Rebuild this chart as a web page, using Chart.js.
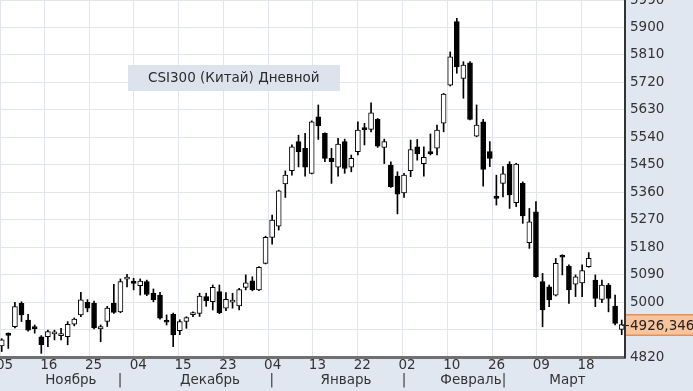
<!DOCTYPE html>
<html>
<head>
<meta charset="utf-8">
<title>CSI300 (Китай) Дневной</title>
<script src="https://cdn.jsdelivr.net/npm/chart.js"></script>
<style>
  html, body { margin: 0; padding: 0; background: #e1e7f0; }
  #wrap { width: 693px; height: 391px; }
</style>
</head>
<body>
<div id="wrap"><canvas id="chart" width="693" height="391"></canvas></div>
<script>
// CSI300 daily candles, 5 Nov 2020 .. 25 Mar 2021
const opens = [
  4856, 4898, 4919, 4996, 4941, 4920, 4886, 4887, 4896, 4890,
  4887, 4928, 4958, 4999, 4996, 4912, 4937, 4996, 4968, 5075,
  5069, 5054, 5067, 5029, 5023, 4937, 4960, 4906, 4937, 4959,
  4963, 5018, 5001, 5034, 4980, 5000, 4987, 5048, 5070, 5040,
  5127, 5212, 5249, 5387, 5431, 5526, 5504, 5422, 5607, 5553,
  5471, 5442, 5526, 5442, 5493, 5569, 5566, 5599, 5507, 5449,
  5413, 5358, 5431, 5509, 5454, 5493, 5504, 5586, 5711, 5919,
  5733, 5784, 5544, 5591, 5493, 5345, 5389, 5452, 5326, 5389,
  5195, 5296, 5067, 5050, 5023, 5154, 5118, 5059, 5063, 5116,
  5072, 5009, 5056, 4987, 4910
];
const highs = [
  4880, 4899, 4999, 5001, 4960, 4925, 4890, 4908, 4908, 4914,
  4936, 4948, 5032, 5008, 5003, 4925, 4986, 5058, 5076, 5091,
  5078, 5076, 5072, 5043, 5032, 4958, 4964, 4942, 4952, 4968,
  5029, 5029, 5056, 5056, 5031, 5029, 5045, 5089, 5083, 5116,
  5216, 5285, 5367, 5430, 5515, 5547, 5553, 5594, 5646, 5555,
  5504, 5537, 5534, 5482, 5591, 5586, 5653, 5602, 5534, 5460,
  5427, 5422, 5531, 5533, 5509, 5551, 5580, 5684, 5820, 5930,
  5788, 5788, 5646, 5599, 5526, 5416, 5444, 5460, 5455, 5394,
  5307, 5329, 5094, 5056, 5143, 5155, 5122, 5089, 5122, 5162,
  5089, 5072, 5061, 5023, 4941
];
const lows = [
  4838, 4848, 4915, 4936, 4905, 4898, 4832, 4854, 4876, 4876,
  4860, 4922, 4952, 4968, 4912, 4870, 4920, 4963, 4965, 5050,
  5040, 5023, 5021, 5001, 4944, 4925, 4854, 4893, 4914, 4952,
  4953, 4986, 4974, 4962, 4972, 4980, 4974, 5040, 5037, 5037,
  5125, 5190, 5236, 5343, 5416, 5443, 5413, 5420, 5533, 5460,
  5389, 5413, 5422, 5427, 5482, 5515, 5558, 5507, 5454, 5376,
  5289, 5343, 5411, 5465, 5413, 5482, 5482, 5558, 5708, 5750,
  5668, 5597, 5542, 5380, 5444, 5318, 5345, 5307, 5313, 5258,
  5176, 5081, 4919, 4985, 5020, 5089, 4996, 5018, 5018, 5114,
  4985, 4998, 4968, 4925, 4893
];
const closes = [
  4876, 4891, 4985, 4958, 4908, 4913, 4860, 4903, 4899, 4893,
  4927, 4944, 5007, 4980, 4915, 4920, 4980, 4966, 5067, 5078,
  5061, 5069, 5025, 5008, 4947, 4934, 4892, 4936, 4949, 4962,
  5020, 5005, 5048, 4965, 5009, 5003, 5041, 5063, 5041, 5114,
  5212, 5269, 5365, 5416, 5509, 5493, 5442, 5591, 5577, 5471,
  5460, 5518, 5438, 5471, 5564, 5565, 5620, 5511, 5526, 5378,
  5354, 5416, 5500, 5486, 5474, 5486, 5564, 5682, 5804, 5771,
  5777, 5599, 5580, 5435, 5471, 5340, 5420, 5351, 5452, 5282,
  5263, 5083, 4974, 5007, 5127, 5147, 5040, 5083, 5103, 5143,
  5012, 5056, 5012, 4930, 4926.346
];

// date ticks sit on evenly spaced grid lines (positions in candle-index units)
const dayTickPos = [-0.25, 6.46, 13.24, 20.03, 26.82, 33.61, 40.40, 47.19, 53.98, 60.77, 67.56, 74.35, 81.13, 87.92];
const dayTickLabels = ['05', '16', '25', '04', '15', '23', '04', '13', '22', '02', '10', '26', '09', '18'];
const monthTickPos = [10.48, 17.93, 31.58, 40.93, 52.2, 61.0, 71.15, 76.15, 85.78];
const monthTickLabels = ['Ноябрь', '|', 'Декабрь', '|', 'Январь', '|', 'Февраль', '|', 'Март'];
const priceTicks = [4820, 4910, 5000, 5090, 5180, 5270, 5360, 5450, 5540, 5630, 5720, 5810, 5900, 5990];

const title = 'CSI300 (Китай) Дневной';
const lastPrice = closes[closes.length - 1];

const idx = opens.map((_, i) => i);
const bodies = idx.map(i => ({ x: i, y: [Math.min(opens[i], closes[i]), Math.max(opens[i], closes[i])] }));
const wicks = idx.map(i => ({ x: i, y: [lows[i], highs[i]] }));
const bodyColors = idx.map(i => closes[i] >= opens[i] ? '#ffffff' : '#000000');

const FONT = { family: '"DejaVu Sans", Verdana, sans-serif', size: 13.5 };
const AXIS_BG = '#e1e7f0';

const decorations = {
  id: 'decorations',
  beforeDraw(chart) {
    const { ctx, chartArea: a } = chart;
    ctx.save();
    ctx.fillStyle = AXIS_BG;
    ctx.fillRect(0, 0, chart.width, chart.height);
    ctx.fillStyle = '#ffffff';
    ctx.fillRect(a.left, a.top, a.right - a.left, a.bottom - a.top);
    ctx.restore();
  },
  beforeDatasetsDraw(chart) {
    // caption box inside the plot
    const ctx = chart.ctx;
    ctx.save();
    ctx.fillStyle = '#dce3ed';
    ctx.fillRect(128, 65, 212, 26);
    ctx.fillStyle = '#2b2b2b';
    ctx.font = '13.5px ' + FONT.family;
    ctx.textBaseline = 'middle';
    ctx.fillText(title, 148, 78.5);
    ctx.restore();
  },
  afterDraw(chart) {
    // last price tag on the right axis
    const { ctx, chartArea: a } = chart;
    const y = Math.round(chart.scales.y.getPixelForValue(lastPrice));
    ctx.save();
    ctx.fillStyle = '#f8c49e';
    ctx.fillRect(a.right + 1, y - 11, chart.width - a.right, 22);
    ctx.fillStyle = '#e2905a';
    ctx.fillRect(a.right + 1, y - 11, chart.width - a.right, 1.5);
    ctx.fillRect(a.right + 1, y + 9.5, chart.width - a.right, 1.5);
    ctx.strokeStyle = '#222';
    ctx.lineWidth = 1;
    ctx.beginPath();
    ctx.moveTo(a.right - 3, y + 0.5);
    ctx.lineTo(a.right + 4, y + 0.5);
    ctx.stroke();
    ctx.fillStyle = '#222';
    ctx.font = '13.5px ' + FONT.family;
    ctx.textBaseline = 'middle';
    ctx.fillText(lastPrice.toFixed(3).replace('.', ','), a.right + 5, y + 1);
    ctx.restore();
  }
};

new Chart(document.getElementById('chart'), {
  type: 'bar',
  data: {
    datasets: [
      {
        label: 'body',
        data: bodies,
        xAxisID: 'x',
        yAxisID: 'y',
        order: 0,
        grouped: false,
        barThickness: 5,
        minBarLength: 2,
        backgroundColor: bodyColors,
        borderColor: '#000000',
        borderWidth: 1,
        borderSkipped: false
      },
      {
        label: 'wick',
        data: wicks,
        xAxisID: 'x',
        yAxisID: 'y',
        order: 1,
        grouped: false,
        barThickness: 1,
        backgroundColor: '#000000',
        borderWidth: 0
      }
    ]
  },
  options: {
    responsive: false,
    animation: false,
    layout: { padding: 0 },
    font: FONT,
    plugins: { legend: { display: false }, tooltip: { enabled: false } },
    scales: {
      x: {
        type: 'linear',
        position: 'bottom',
        weight: 0,
        min: -0.26,
        max: 94.5,
        offset: false,
        afterBuildTicks: axis => { axis.ticks = dayTickPos.map(v => ({ value: v })); },
        afterFit: axis => { axis.height = 15; axis.paddingLeft = 0; axis.paddingRight = 0; },
        grid: { color: '#e2e6ec', offset: false, drawTicks: false },
        border: { color: '#707070', width: 3 },
        ticks: {
          autoSkip: false, maxRotation: 0, padding: 0, labelOffset: 4.5,
          color: '#333', font: FONT,
          callback: (v, i) => dayTickLabels[i]
        }
      },
      months: {
        type: 'linear',
        axis: 'x',
        position: 'bottom',
        weight: 1,
        min: -0.26,
        max: 94.5,
        offset: false,
        afterBuildTicks: axis => { axis.ticks = monthTickPos.map(v => ({ value: v })); },
        afterFit: axis => { axis.height = 19; axis.paddingLeft = 0; axis.paddingRight = 0; },
        grid: { display: false, drawTicks: false },
        border: { display: false },
        ticks: {
          autoSkip: false, maxRotation: 0, padding: 0,
          color: '#333', font: FONT,
          callback: (v, i) => monthTickLabels[i]
        }
      },
      y: {
        position: 'right',
        min: 4820,
        max: 5990,
        afterBuildTicks: axis => { axis.ticks = priceTicks.map(v => ({ value: v })); },
        afterFit: axis => { axis.width = 68; axis.paddingTop = 0; axis.paddingBottom = 0; },
        grid: { color: '#e2e6ec', drawTicks: false },
        border: { color: '#333', width: 2 },
        ticks: { padding: 5, color: '#333', font: FONT, callback: v => String(v) }
      }
    }
  },
  plugins: [decorations]
});
</script>
</body>
</html>
